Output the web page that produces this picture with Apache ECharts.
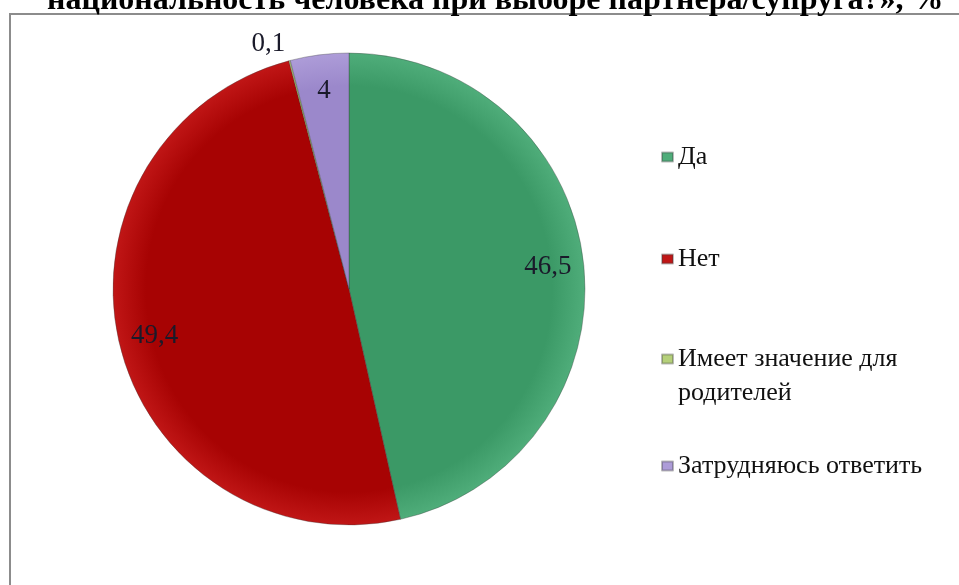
<!DOCTYPE html>
<html>
<head>
<meta charset="utf-8">
<script src="https://cdn.jsdelivr.net/npm/echarts@6/dist/echarts.min.js"></script>
<style>
html,body{margin:0;padding:0;background:#fff;}
#chart{width:959px;height:585px;}
</style>
</head>
<body>
<div id="chart"></div>
<script>
const titleText = 'национальность человека при выборе партнера/супруга?», %';
const categories = ['Да', 'Нет', 'Имеет значение для родителей', 'Затрудняюсь ответить'];
const legendLabels = ['Да', 'Нет', '\nИмеет значение для\nродителей', 'Затрудняюсь ответить'];
const values = [46.5, 49.4, 0.1, 4];
const colors = ['#3b9966', '#a70303', '#9bbb59', '#9b88cb'];
const lightColors = ['#4fad7a', '#c01616', '#b5d07a', '#ad9cd8'];

const SERIF = '"Liberation Serif", "Times New Roman", serif';
const fmt = v => String(v).replace('.', ',');

const CX = 349, CY = 289, R = 236;

const chart = echarts.init(document.getElementById('chart'));

const mainData = categories.map((name, i) => ({
  name: name,
  value: values[i],
  itemStyle: {
    color: new echarts.graphic.RadialGradient(CX, CY, R, [
      { offset: 0, color: colors[i] },
      { offset: 0.86, color: colors[i] },
      { offset: 1, color: lightColors[i] }
    ], true)
  }
}));

const labelData = categories.map((name, i) => {
  const d = { name: name, value: values[i] };
  if (values[i] < 1) {
    d.label = { position: 'outside', distanceToLabelLine: 0 };
    d.labelLine = { show: false, length: 17, length2: 0 };
  }
  return d;
});

const legendTops = [142, 244, 308, 451];
const legends = categories.map((name, i) => {
  const multi = legendLabels[i].indexOf('\n') >= 0;
  return {
    orient: 'vertical',
    left: 661,
    top: legendTops[i],
    data: [name],
    icon: 'rect',
    itemWidth: 11,
    itemHeight: 9,
    itemGap: 0,
    padding: 0,
    selectedMode: false,
    formatter: () => legendLabels[i],
    textStyle: {
      fontFamily: SERIF,
      fontSize: 26,
      color: '#111',
      lineHeight: multi ? 34 : 30
    }
  };
});

chart.setOption({
  animation: false,
  color: colors,
  title: {
    text: titleText,
    left: 42,
    top: -20,
    textStyle: { fontFamily: SERIF, fontSize: 32, fontWeight: 'bold', color: '#000' }
  },
  legend: legends,
  graphic: [{
    type: 'rect',
    shape: { x: 10, y: 14, width: 1000, height: 700 },
    style: { fill: 'none', stroke: '#8c8c8c', lineWidth: 2 },
    silent: true
  }],
  series: [
    {
      type: 'pie',
      center: [CX, CY],
      radius: R,
      startAngle: 90,
      clockwise: true,
      label: { show: false },
      labelLine: { show: false },
      itemStyle: { borderColor: 'rgba(60,60,60,0.35)', borderWidth: 1 },
      data: mainData
    },
    {
      type: 'pie',
      center: [CX, CY],
      radius: [158, R],
      startAngle: 90,
      clockwise: true,
      silent: true,
      avoidLabelOverlap: false,
      itemStyle: { color: 'rgba(0,0,0,0)', borderWidth: 0 },
      label: {
        show: true,
        position: 'inside',
        fontFamily: SERIF,
        fontSize: 27,
        color: '#1a1a2a',
        formatter: p => fmt(p.value)
      },
      labelLine: { show: false },
      data: labelData
    }
  ]
});
</script>
</body>
</html>
